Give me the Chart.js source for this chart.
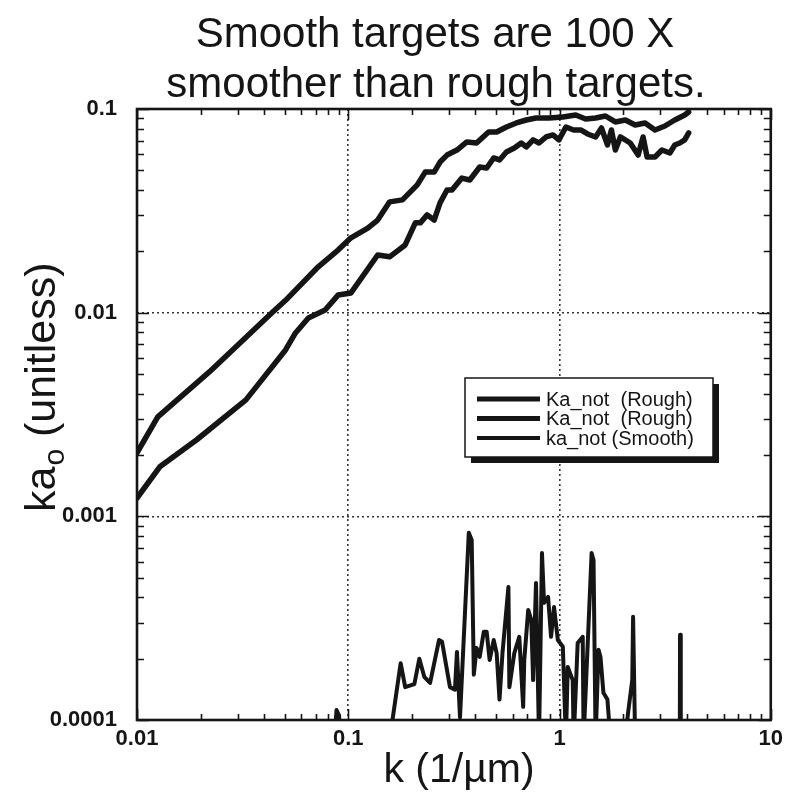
<!DOCTYPE html>
<html>
<head>
<meta charset="utf-8">
<script src="https://cdn.jsdelivr.net/npm/chart.js@4.4.0/dist/chart.umd.min.js"></script>
<style>
  body { margin: 0; background: #fff; }
  canvas { display: block; }
</style>
</head>
<body>
<canvas id="kaChart" width="789" height="799"></canvas>
<script>
// Titles and labels
const TITLE_LINES = ['Smooth targets are 100 X', 'smoother than rough targets.'];
const X_TITLE = 'k (1/\u00b5m)';
const LEGEND_LABELS = ['Ka_not  (Rough)', 'Ka_not  (Rough)', 'ka_not (Smooth)'];

// Axis ticks
const X_TICKS = [0.01, 0.1, 1, 10];
const X_LABELS = ['0.01', '0.1', '1', '10'];
const Y_TICKS = [0.0001, 0.001, 0.01, 0.1];
const Y_LABELS = ['0.0001', '0.001', '0.01', '0.1'];
const MINOR_STEPS = [2, 3, 4, 5, 6, 7, 8, 9];

// Rough target #1 (upper curve)
const roughAX = [0.01, 0.01254, 0.022, 0.0434, 0.0505, 0.0721, 0.0895, 0.103, 0.1237, 0.1378,
  0.157, 0.1805, 0.2122, 0.2313, 0.255, 0.272, 0.2934, 0.327, 0.3641, 0.405,
  0.4616, 0.504, 0.5607, 0.6246, 0.6959, 0.774, 0.8919, 1.037, 1.194, 1.33,
  1.482, 1.65, 1.838, 2.05, 2.28, 2.541, 2.831, 3.154, 3.513, 3.75, 3.914, 4.087];
const roughAY = [0.00205, 0.00308, 0.00512, 0.00997, 0.0115, 0.0168, 0.0203, 0.0233, 0.026, 0.0285,
  0.035, 0.0358, 0.0424, 0.049, 0.049, 0.0549, 0.0594, 0.0629, 0.0689, 0.0681,
  0.0771, 0.0771, 0.0816, 0.0854, 0.0883, 0.0903, 0.0903, 0.0914, 0.0934, 0.0893,
  0.0903, 0.0924, 0.0864, 0.0883, 0.0835, 0.0854, 0.0789, 0.0825, 0.0883, 0.0914, 0.0934, 0.0967];

// Rough target #2 (lower curve)
const roughBX = [0.01, 0.01282, 0.01911, 0.03278, 0.05048, 0.05625, 0.06475, 0.0777, 0.0895, 0.103,
  0.1378, 0.157, 0.186, 0.2077, 0.2193, 0.2364, 0.255, 0.272, 0.2934, 0.3098,
  0.3449, 0.376, 0.419, 0.452, 0.488, 0.52, 0.5607, 0.611, 0.6592, 0.6959,
  0.75, 0.8, 0.8633, 0.9313, 0.9936, 1.072, 1.167, 1.26, 1.358, 1.482,
  1.58, 1.686, 1.761, 1.838, 1.941, 2.161, 2.356, 2.487, 2.597, 2.831,
  3.053, 3.329, 3.513, 3.71, 3.914, 4.087];
const roughBY = [0.00123, 0.00175, 0.00237, 0.00373, 0.00656, 0.00795, 0.00942, 0.0103, 0.0122, 0.0125,
  0.0192, 0.0188, 0.0215, 0.0276, 0.0276, 0.0302, 0.0285, 0.0346, 0.04, 0.04,
  0.0458, 0.0448, 0.0519, 0.0513, 0.0575, 0.0562, 0.0615, 0.0643, 0.0681, 0.0651,
  0.0705, 0.0681, 0.0729, 0.0746, 0.0705, 0.0816, 0.0789, 0.0789, 0.0754, 0.0729,
  0.0807, 0.0666, 0.0789, 0.0629, 0.0729, 0.0681, 0.0594, 0.0729, 0.0581, 0.0581,
  0.0629, 0.0608, 0.0666, 0.0681, 0.0705, 0.0763];

// Smooth target (values under 0.0001 fall off the bottom of the plot)
const smoothX = [0.086, 0.088, 0.0905, 0.0914, 0.157, 0.177, 0.186, 0.2055, 0.217, 0.229,
  0.244, 0.269, 0.278, 0.303, 0.32, 0.327, 0.338, 0.372, 0.384, 0.393,
  0.405, 0.419, 0.438, 0.452, 0.467, 0.488, 0.504, 0.52, 0.537, 0.573,
  0.579, 0.611, 0.645, 0.673, 0.681, 0.711, 0.735, 0.75, 0.774, 0.8,
  0.826, 0.845, 0.883, 0.912, 0.942, 0.982, 1.037, 1.072, 1.094, 1.155,
  1.167, 1.219, 1.288, 1.3, 1.358, 1.419, 1.449, 1.482, 1.53, 1.563,
  1.614, 1.686, 1.742, 2.05, 2.11, 2.21, 2.23, 2.28, 3.71, 3.72, 3.75];
const smoothY = [0.00008, 0.000112, 0.000105, 0.00008, 0.00008, 0.00019, 0.000145, 0.00015, 0.0002, 0.000163,
  0.000152, 0.000247, 0.000242, 0.000145, 0.000141, 0.000216, 0.000103, 0.00083, 0.000766, 0.000167,
  0.000226, 0.000204, 0.000271, 0.000271, 0.000197, 0.000247, 0.000213, 0.000126, 0.000213, 0.00045,
  0.000145, 0.000213, 0.000256, 0.000116, 0.000197, 0.000347, 0.00031, 0.000157, 0.000471, 0.00008,
  0.000661, 0.000376, 0.000402, 0.000256, 0.000359, 0.000247, 0.000229, 0.00008, 0.000182, 0.000157,
  0.00008, 0.000239, 0.000256, 0.00008, 0.000229, 0.000661, 0.000611, 0.00008, 0.000221, 0.000204,
  0.000136, 0.000126, 0.00008, 0.00008, 0.000108, 0.000157, 0.000321, 0.00008, 0.00008, 0.000262, 0.00008];

const INK = '#151515';
const FONT = '"Liberation Sans", Arial, Helvetica, sans-serif';

function toPoints(xs, ys) {
    return xs.map((x, i) => ({ x: x, y: ys[i] }));
}

// Frame, inward ticks, legend and text
const decorPlugin = {
    id: 'decor',
    afterDatasetsDraw(chart) {
        const { ctx, chartArea: a, scales } = chart;
        const xs = scales.x, ys = scales.y;
        ctx.save();
        ctx.strokeStyle = INK;
        ctx.lineWidth = 1.6;
        ctx.beginPath();
        // x ticks top and bottom
        X_TICKS.slice(0, -1).forEach(d => {
            MINOR_STEPS.forEach(m => {
                const px = Math.round(xs.getPixelForValue(d * m)) + 0.5;
                ctx.moveTo(px, a.bottom); ctx.lineTo(px, a.bottom - 6);
                ctx.moveTo(px, a.top); ctx.lineTo(px, a.top + 6);
            });
        });
        X_TICKS.forEach(d => {
            const px = Math.round(xs.getPixelForValue(d)) + 0.5;
            ctx.moveTo(px, a.bottom); ctx.lineTo(px, a.bottom - 11);
            ctx.moveTo(px, a.top); ctx.lineTo(px, a.top + 11);
        });
        // y ticks left and right
        Y_TICKS.slice(0, -1).forEach(d => {
            MINOR_STEPS.forEach(m => {
                const py = Math.round(ys.getPixelForValue(d * m)) + 0.5;
                ctx.moveTo(a.left, py); ctx.lineTo(a.left + 7, py);
                ctx.moveTo(a.right, py); ctx.lineTo(a.right - 7, py);
            });
        });
        Y_TICKS.forEach(d => {
            const py = Math.round(ys.getPixelForValue(d)) + 0.5;
            ctx.moveTo(a.left, py); ctx.lineTo(a.left + 12, py);
            ctx.moveTo(a.right, py); ctx.lineTo(a.right - 12, py);
        });
        ctx.stroke();
        // frame
        ctx.lineWidth = 2.6;
        ctx.strokeRect(a.left, a.top, a.right - a.left, a.bottom - a.top);
        ctx.restore();
    },
    afterDraw(chart) {
        const { ctx } = chart;
        ctx.save();
        ctx.fillStyle = INK;

        // chart title
        ctx.font = '42px ' + FONT;
        ctx.textAlign = 'center';
        ctx.textBaseline = 'alphabetic';
        ctx.fillText(TITLE_LINES[0], 435, 47);
        ctx.fillText(TITLE_LINES[1], 436, 97);

        // x axis title
        ctx.font = '41px ' + FONT;
        ctx.fillText(X_TITLE, 459, 782);

        // y axis title with subscript o
        ctx.save();
        ctx.translate(55, 512);
        ctx.rotate(-Math.PI / 2);
        ctx.textAlign = 'left';
        ctx.font = '43px ' + FONT;
        ctx.fillText('ka', 0, 0);
        let w = ctx.measureText('ka').width;
        ctx.font = '30px ' + FONT;
        ctx.fillText('o', w + 1, 9);
        w += ctx.measureText('o').width + 1;
        ctx.font = '43px ' + FONT;
        ctx.fillText(' (unitless)', w, 0);
        ctx.restore();

        // legend box with drop shadow
        const bx = 465, by = 378, bw = 248, bh = 79;
        ctx.fillStyle = INK;
        ctx.fillRect(bx + 6, by + 6, bw, bh);
        ctx.fillStyle = '#fff';
        ctx.fillRect(bx, by, bw, bh);
        ctx.strokeStyle = INK;
        ctx.lineWidth = 1.5;
        ctx.strokeRect(bx, by, bw, bh);
        ctx.font = '20px ' + FONT;
        ctx.textAlign = 'left';
        ctx.textBaseline = 'middle';
        const widths = [5, 5, 4];
        LEGEND_LABELS.forEach((label, i) => {
            const ly = 399 + i * 19.5;
            ctx.lineWidth = widths[i];
            ctx.beginPath();
            ctx.moveTo(477, ly);
            ctx.lineTo(540, ly);
            ctx.stroke();
            ctx.fillStyle = INK;
            ctx.fillText(label, 546, ly + 1);
        });
        ctx.restore();
    }
};

function innerGrid(ticks) {
    return c => (c.index === 0 || c.index === ticks.length - 1) ? 'rgba(0,0,0,0)' : '#333';
}

new Chart(document.getElementById('kaChart').getContext('2d'), {
    type: 'line',
    data: {
        datasets: [
            { label: LEGEND_LABELS[0], data: toPoints(roughAX, roughAY), borderColor: INK, borderWidth: 5.5 },
            { label: LEGEND_LABELS[1], data: toPoints(roughBX, roughBY), borderColor: INK, borderWidth: 5.5 },
            { label: LEGEND_LABELS[2], data: toPoints(smoothX, smoothY), borderColor: INK, borderWidth: 4 }
        ]
    },
    options: {
        responsive: false,
        animation: false,
        devicePixelRatio: 1,
        layout: { padding: { left: 0, right: 12, top: 109, bottom: 0 } },
        elements: {
            point: { radius: 0 },
            line: { tension: 0, borderJoinStyle: 'round', borderCapStyle: 'round' }
        },
        plugins: {
            legend: { display: false },
            title: { display: false },
            tooltip: { enabled: false }
        },
        scales: {
            x: {
                type: 'logarithmic',
                min: 0.01,
                max: 10,
                afterBuildTicks: s => { s.ticks = X_TICKS.map(v => ({ value: v })); },
                afterFit: s => { s.height = 79; },
                ticks: {
                    callback: (v, i) => X_LABELS[i],
                    font: { family: FONT, size: 22, weight: 'bold' },
                    color: INK,
                    padding: 6,
                    maxRotation: 0,
                    autoSkip: false
                },
                grid: { color: innerGrid(X_TICKS), lineWidth: 1.6, drawTicks: false },
                border: { display: false, dash: [2, 3] }
            },
            y: {
                type: 'logarithmic',
                min: 0.0001,
                max: 0.1,
                afterBuildTicks: s => { s.ticks = Y_TICKS.map(v => ({ value: v })); },
                afterFit: s => { s.width = 137; },
                ticks: {
                    callback: (v, i) => Y_LABELS[i],
                    font: { family: FONT, size: 22, weight: 'bold' },
                    color: INK,
                    padding: 20,
                    autoSkip: false
                },
                grid: { color: innerGrid(Y_TICKS), lineWidth: 1.6, drawTicks: false },
                border: { display: false, dash: [2, 3] }
            }
        }
    },
    plugins: [decorPlugin]
});
</script>
</body>
</html>
